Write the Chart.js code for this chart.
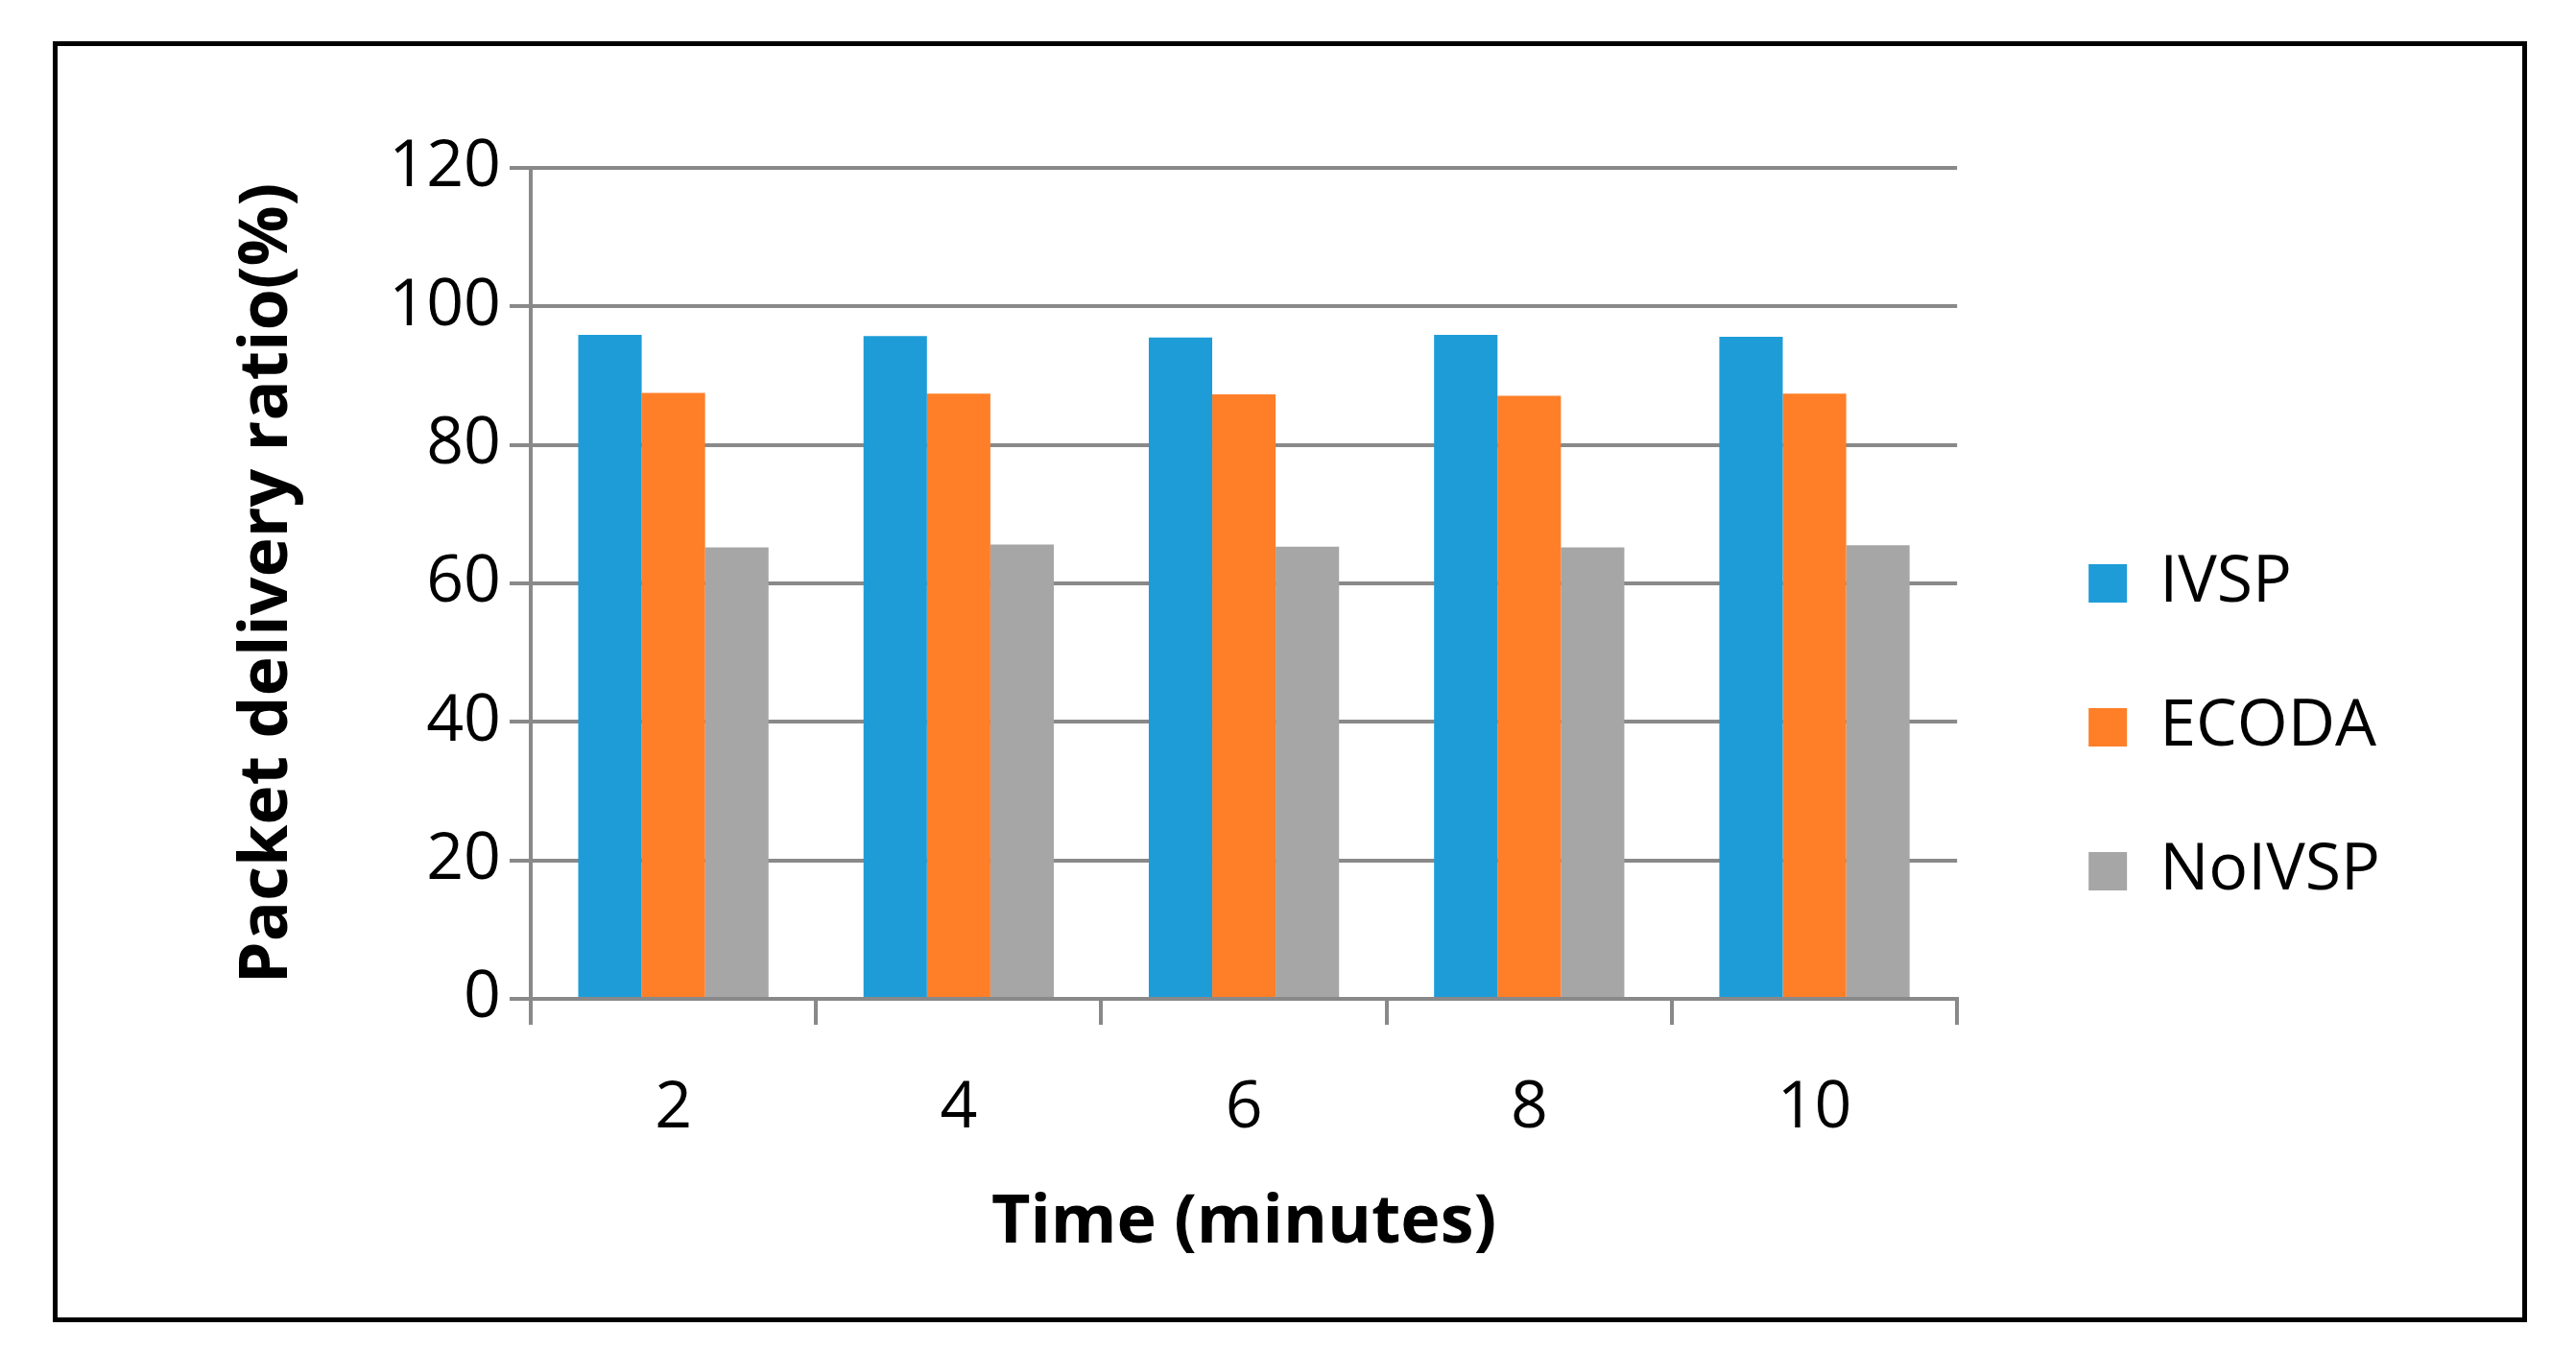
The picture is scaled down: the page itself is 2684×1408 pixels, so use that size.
<!doctype html>
<html>
<head>
<title>Packet delivery ratio</title>
<script src="https://cdn.jsdelivr.net/npm/chart.js@4/dist/chart.umd.min.js"></script>
<style>
  body { margin: 0; background: #fff; }
  #frame {
    position: absolute; left: 55px; top: 43px;
    width: 2578px; height: 1335px;
    border: 5px solid #000; box-sizing: border-box;
  }
  canvas { position: absolute; left: 0; top: 0; }
</style>
</head>
<body>
<div id="frame"></div>
<canvas id="chart" width="2684" height="1408"></canvas>
<script>
var timeLabels = ['2', '4', '6', '8', '10'];
var ivsp = [95.9, 95.7, 95.5, 95.9, 95.6];
var ecoda = [87.5, 87.4, 87.3, 87.1, 87.4];
var noIvsp = [65.2, 65.6, 65.3, 65.2, 65.5];

var gridGray = '#898989';
Chart.defaults.font.family = "'Open Sans', sans-serif";
Chart.defaults.color = '#000';

var ctx = document.getElementById('chart').getContext('2d');
new Chart(ctx, {
  type: 'bar',
  data: {
    labels: timeLabels,
    datasets: [
      { label: 'IVSP', data: ivsp, backgroundColor: '#1E9CD8' },
      { label: 'ECODA', data: ecoda, backgroundColor: '#FE7F28' },
      { label: 'NoIVSP', data: noIvsp, backgroundColor: '#A6A6A6' }
    ]
  },
  options: {
    responsive: false,
    animation: false,
    categoryPercentage: 0.667,
    barPercentage: 1.0,
    layout: { padding: { left: 50, top: 175, right: 194, bottom: 67 } },
    plugins: {
      tooltip: { enabled: false },
      legend: {
        position: 'right',
        labels: { font: { size: 68 }, boxWidth: 40, boxHeight: 40, padding: 82 }
      }
    },
    scales: {
      x: {
        grid: { drawOnChartArea: false, drawTicks: true, tickLength: 27, color: gridGray, lineWidth: 4 },
        border: { display: true, color: gridGray, width: 4 },
        ticks: { font: { size: 68 }, padding: 47 },
        title: { display: true, text: 'Time (minutes)', font: { size: 70, weight: 'bold' }, padding: { top: 0, bottom: 24 } },
        afterFit: function (s) { s.height = 300; }
      },
      y: {
        min: 0, max: 120,
        ticks: { stepSize: 20, font: { size: 68 }, padding: 9 },
        grid: { color: gridGray, lineWidth: 4, tickLength: 22 },
        border: { display: true, color: gridGray, width: 4 },
        title: { display: true, text: 'Packet delivery ratio(%)', font: { size: 70, weight: 'bold' }, padding: { top: 187, bottom: 0 } },
        afterFit: function (s) { s.width = 503; }
      },
      gap: {
        type: 'linear', position: 'right',
        grid: { display: false }, border: { display: false }, ticks: { display: false },
        afterFit: function (s) { s.width = 55; }
      }
    }
  }
});
</script>
</body>
</html>
